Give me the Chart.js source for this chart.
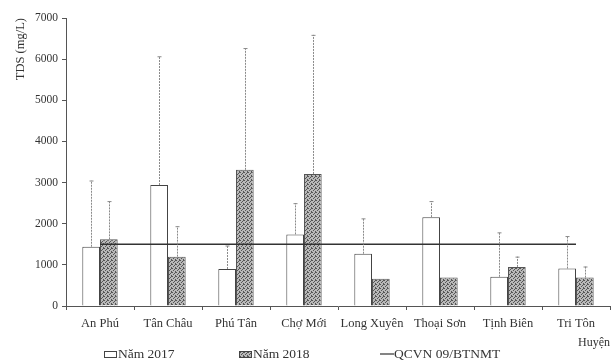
<!DOCTYPE html>
<html lang="vi">
<head>
    <meta charset="UTF-8">
    <title>TDS theo huyện</title>
    <script src="https://cdn.jsdelivr.net/npm/chart.js"></script>
    <style>
        body {
            margin: 0;
            background-color: #fff;
        }
    </style>
</head>
<body>
    <canvas id="tdsChart" width="611" height="361"></canvas>
    <script>
        // Data
        const districts = ['An Phú', 'Tân Châu', 'Phú Tân', 'Chợ Mới', 'Long Xuyên', 'Thoại Sơn', 'Tịnh Biên', 'Tri Tôn'];
        const tds2017 = [1440, 2940, 900, 1740, 1270, 2160, 710, 910];
        const tds2017Max = [3050, 6070, 1470, 2500, 2130, 2550, 1790, 1700];
        const tds2018 = [1620, 1200, 3310, 3210, 660, 690, 950, 690];
        const tds2018Max = [2550, 1940, 6270, 6590, 700, 690, 1200, 960];
        const qcvnLimit = [1500, 1500, 1500, 1500, 1500, 1500, 1500, 1500];
        const yTicks = [0, 1000, 2000, 3000, 4000, 5000, 6000, 7000];

        const serif = '"Liberation Serif", "DejaVu Serif", serif';

        // speckled fill for the 2018 bars
        function makePattern() {
            const c = document.createElement('canvas');
            c.width = 4;
            c.height = 4;
            const g = c.getContext('2d');
            g.fillStyle = '#b8b8b8';
            g.fillRect(0, 0, 4, 4);
            g.fillStyle = '#555';
            [[0, 0], [2, 1], [1, 2], [3, 3], [3, 0]].forEach(p => g.fillRect(p[0], p[1], 1, 1));
            return g.createPattern(c, 'repeat');
        }

        // upper error bars drawn from each bar top
        const errorBars = {
            id: 'errorBars',
            afterDatasetsDraw(chart) {
                const ctx = chart.ctx;
                const y = chart.scales.y;
                ctx.save();
                ctx.strokeStyle = '#8a8a8a';
                ctx.lineWidth = 1;
                ctx.setLineDash([2, 1]);
                chart.data.datasets.forEach((ds, i) => {
                    if (!ds.errorMax) return;
                    chart.getDatasetMeta(i).data.forEach((bar, j) => {
                        const top = y.getPixelForValue(ds.errorMax[j]);
                        if (bar.y - top < 2) return;
                        const x = Math.round(bar.x) + 0.5;
                        ctx.beginPath();
                        ctx.moveTo(x, bar.y);
                        ctx.lineTo(x, top);
                        ctx.stroke();
                        ctx.beginPath();
                        ctx.setLineDash([]);
                        ctx.moveTo(x - 2, top + 0.5);
                        ctx.lineTo(x + 2, top + 0.5);
                        ctx.stroke();
                        ctx.setLineDash([2, 1]);
                    });
                });
                ctx.restore();
            }
        };

        // legend placed like the original figure
        const legendSpots = [104, 239, 380];
        const bottomLegend = {
            id: 'bottomLegend',
            afterDraw(chart) {
                const ctx = chart.ctx;
                const cy = 354;
                ctx.save();
                ctx.font = '13.5px ' + serif;
                ctx.textBaseline = 'middle';
                [0, 1, 2].forEach(i => {
                    const ds = chart.data.datasets[i];
                    const x = legendSpots[i];
                    if (ds.type === 'line') {
                        ctx.strokeStyle = '#333';
                        ctx.lineWidth = 1.2;
                        ctx.beginPath();
                        ctx.moveTo(x, cy);
                        ctx.lineTo(x + 14, cy);
                        ctx.stroke();
                    } else {
                        ctx.fillStyle = ds.backgroundColor;
                        ctx.fillRect(x, cy - 3, 13, 7);
                        ctx.strokeStyle = '#444';
                        ctx.lineWidth = 1;
                        ctx.strokeRect(x + 0.5, cy - 2.5, 12, 6);
                    }
                    ctx.fillStyle = '#333';
                    ctx.fillText(ds.label, x + 14, cy);
                });
                ctx.restore();
            }
        };

        const ctx = document.getElementById('tdsChart').getContext('2d');
        const tdsChart = new Chart(ctx, {
            type: 'bar',
            data: {
                labels: districts,
                datasets: [{
                    label: 'Năm 2017',
                    data: tds2017,
                    errorMax: tds2017Max,
                    backgroundColor: '#ffffff',
                    borderColor: '#444',
                    borderWidth: 1,
                    order: 1
                }, {
                    label: 'Năm 2018',
                    data: tds2018,
                    errorMax: tds2018Max,
                    backgroundColor: makePattern(),
                    borderColor: '#555',
                    borderWidth: 1,
                    order: 1
                }, {
                    type: 'line',
                    label: 'QCVN 09/BTNMT',
                    data: qcvnLimit,
                    borderColor: '#333',
                    borderWidth: 1.5,
                    pointRadius: 0,
                    fill: false,
                    order: 0
                }]
            },
            options: {
                responsive: false,
                animation: false,
                layout: {
                    padding: { top: 18, right: 1, bottom: 0, left: 0 }
                },
                plugins: {
                    legend: { display: false },
                    tooltip: { enabled: false }
                },
                datasets: {
                    bar: {
                        categoryPercentage: 0.52,
                        barPercentage: 1
                    }
                },
                scales: {
                    x: {
                        afterFit: (scale) => { scale.height = 55; },
                        grid: {
                            display: true,
                            drawOnChartArea: false,
                            tickLength: 4,
                            color: '#555'
                        },
                        border: { color: '#555', width: 1 },
                        ticks: {
                            color: '#333',
                            padding: 6,
                            maxRotation: 0,
                            autoSkip: false,
                            font: { family: serif, size: 12.5 }
                        },
                        title: {
                            display: true,
                            text: 'Huyện',
                            align: 'end',
                            color: '#333',
                            padding: { top: 0, bottom: 11 },
                            font: { family: serif, size: 12 }
                        }
                    },
                    y: {
                        min: 0,
                        max: 7000,
                        afterFit: (scale) => { scale.width = 66; },
                        afterBuildTicks: (scale) => {
                            scale.ticks = yTicks.map(v => ({ value: v }));
                        },
                        grid: {
                            display: true,
                            drawOnChartArea: false,
                            tickLength: 4,
                            color: '#555'
                        },
                        border: { color: '#555', width: 1 },
                        ticks: {
                            color: '#333',
                            padding: 4,
                            callback: (v) => String(v),
                            font: { family: serif, size: 11.5 }
                        },
                        title: {
                            display: true,
                            text: 'TDS (mg/L)',
                            align: 'end',
                            color: '#333',
                            padding: { top: 13, bottom: 0 },
                            font: { family: serif, size: 12.5 }
                        }
                    }
                }
            },
            plugins: [errorBars, bottomLegend]
        });
    </script>
</body>
</html>
